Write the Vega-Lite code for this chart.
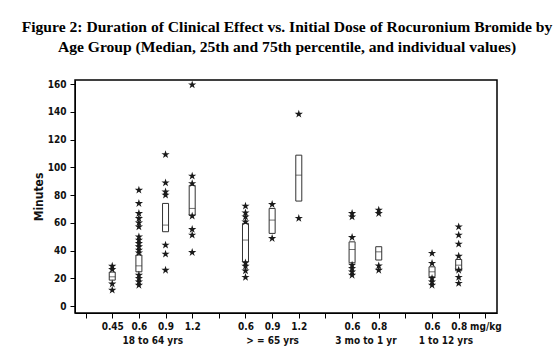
{
  "$schema": "https://vega.github.io/schema/vega-lite/v6.json",
  "width": 422,
  "height": 233,
  "autosize": {"type": "none"},
  "padding": {"left": 75, "top": 80, "right": 62, "bottom": 42},
  "background": "white",
  "title": {
    "text": ["Figure 2: Duration of Clinical Effect vs. Initial Dose of Rocuronium Bromide by", "Age Group (Median, 25th and 75th percentile, and individual values)"],
    "font": "Liberation Serif",
    "fontSize": 15.6,
    "fontWeight": "bold",
    "lineHeight": 20,
    "anchor": "middle",
    "offset": 24,
    "dx": 1,
    "color": "black"
  },
  "config": {
    "view": {"stroke": "black", "strokeWidth": 1.5},
    "axis": {
      "labelFont": "Liberation Sans Narrow, DejaVu Sans Condensed, sans-serif",
      "titleFont": "Liberation Sans Narrow, DejaVu Sans Condensed, sans-serif",
      "labelFontWeight": "bold",
      "titleFontWeight": "bold",
      "labelColor": "#111",
      "titleColor": "#111",
      "domainColor": "black",
      "tickColor": "black",
      "grid": false
    }
  },
  "datasets": {
    "boxes": [
      {"pos": 1, "q1": 18.7, "med": 21.1, "q3": 24.5},
      {"pos": 2, "q1": 24.7, "med": 29, "q3": 36.8},
      {"pos": 3, "q1": 53.6, "med": 58.4, "q3": 74},
      {"pos": 4, "q1": 65.6, "med": 70.4, "q3": 87},
      {"pos": 6, "q1": 31.9, "med": 47.6, "q3": 59.6},
      {"pos": 7, "q1": 52.4, "med": 62, "q3": 70.4},
      {"pos": 8, "q1": 75.7, "med": 94.4, "q3": 108.8},
      {"pos": 10, "q1": 31.2, "med": 40.8, "q3": 46.3},
      {"pos": 11, "q1": 33.2, "med": 39.1, "q3": 42.8},
      {"pos": 13, "q1": 21.1, "med": 24.7, "q3": 28.3},
      {"pos": 14, "q1": 25.4, "med": 29.5, "q3": 33.6}
    ],
    "points": [
      {"pos": 1, "v": 28.8}, {"pos": 1, "v": 26.4}, {"pos": 1, "v": 16}, {"pos": 1, "v": 11.5},
      {"pos": 2, "v": 83.6}, {"pos": 2, "v": 74}, {"pos": 2, "v": 66.8}, {"pos": 2, "v": 63.2},
      {"pos": 2, "v": 60}, {"pos": 2, "v": 57.2}, {"pos": 2, "v": 50}, {"pos": 2, "v": 47.6},
      {"pos": 2, "v": 45.2}, {"pos": 2, "v": 42.8}, {"pos": 2, "v": 40.4}, {"pos": 2, "v": 38.4},
      {"pos": 2, "v": 22.3}, {"pos": 2, "v": 20}, {"pos": 2, "v": 17.5}, {"pos": 2, "v": 15.1},
      {"pos": 3, "v": 109.3}, {"pos": 3, "v": 88.9}, {"pos": 3, "v": 82.4}, {"pos": 3, "v": 80},
      {"pos": 3, "v": 44}, {"pos": 3, "v": 37.5}, {"pos": 3, "v": 25.9},
      {"pos": 4, "v": 159.5}, {"pos": 4, "v": 93.7}, {"pos": 4, "v": 88.4}, {"pos": 4, "v": 64.9},
      {"pos": 4, "v": 55.3}, {"pos": 4, "v": 51.2}, {"pos": 4, "v": 38.7},
      {"pos": 6, "v": 72.1}, {"pos": 6, "v": 67.3}, {"pos": 6, "v": 64.4}, {"pos": 6, "v": 60.8},
      {"pos": 6, "v": 31.2}, {"pos": 6, "v": 28.8}, {"pos": 6, "v": 25.4}, {"pos": 6, "v": 20.7},
      {"pos": 7, "v": 73.3}, {"pos": 7, "v": 48.8},
      {"pos": 8, "v": 138.4}, {"pos": 8, "v": 63.3},
      {"pos": 10, "v": 66.8}, {"pos": 10, "v": 64.4}, {"pos": 10, "v": 49.5}, {"pos": 10, "v": 29.5},
      {"pos": 10, "v": 27.2}, {"pos": 10, "v": 24.7}, {"pos": 10, "v": 22.3},
      {"pos": 11, "v": 69.2}, {"pos": 11, "v": 66.8}, {"pos": 11, "v": 29}, {"pos": 11, "v": 25.9},
      {"pos": 13, "v": 38}, {"pos": 13, "v": 30.8}, {"pos": 13, "v": 20}, {"pos": 13, "v": 17.5}, {"pos": 13, "v": 15.1},
      {"pos": 14, "v": 57.2}, {"pos": 14, "v": 51.2}, {"pos": 14, "v": 44.7}, {"pos": 14, "v": 36},
      {"pos": 14, "v": 25.9}, {"pos": 14, "v": 20.7}, {"pos": 14, "v": 16.4}
    ]
  },
  "encoding": {
    "x": {
      "field": "pos",
      "type": "quantitative",
      "scale": {"domain": [-0.21, 15.25], "nice": false, "zero": false},
      "axis": {
        "title": null,
        "values": [0, 1, 2, 2.5, 3, 4, 5, 6, 7, 8, 9, 10, 10.5, 11, 12, 13, 13.5, 14, 15],
        "labelExpr": "datum.value==1?'0.45':datum.value==2?'0.6':datum.value==3?'0.9':datum.value==4?'1.2':datum.value==2.5?['','18 to 64 yrs']:datum.value==6?'0.6':datum.value==7?['0.9','> = 65 yrs']:datum.value==8?'1.2':datum.value==10?'0.6':datum.value==10.5?['','3 mo to 1 yr']:datum.value==11?'0.8':datum.value==13?'0.6':datum.value==13.5?['','1 to 12 yrs']:datum.value==14?'0.8':datum.value==15?'mg/kg':''",
        "labelOverlap": false,
        "labelFlush": false,
        "labelBound": false,
        "labelFontSize": 10,
        "labelLineHeight": 14,
        "labelPadding": 3,
        "tickSize": 5,
        "tickOpacity": {"condition": {"test": "datum.value==2.5||datum.value==10.5||datum.value==13.5", "value": 0}, "value": 1}
      }
    },
    "y": {
      "type": "quantitative",
      "scale": {"domain": [-5, 163], "nice": false, "zero": false},
      "axis": {
        "title": "Minutes",
        "titleFontSize": 12,
        "values": [0, 20, 40, 60, 80, 100, 120, 140, 160],
        "labelFontSize": 10,
        "tickSize": 5,
        "labelPadding": 4,
        "titlePadding": 2
      }
    }
  },
  "layer": [
    {
      "data": {"name": "boxes"},
      "mark": {"type": "bar", "width": 6, "fill": "white", "stroke": "#333", "strokeWidth": 1},
      "encoding": {
        "y": {"field": "q1", "type": "quantitative", "title": "Minutes"},
        "y2": {"field": "q3"}
      }
    },
    {
      "data": {"name": "boxes"},
      "mark": {"type": "tick", "orient": "horizontal", "size": 6, "thickness": 1, "color": "#333"},
      "encoding": {
        "y": {"field": "med", "type": "quantitative", "title": "Minutes"}
      }
    },
    {
      "data": {"name": "points"},
      "mark": {
        "type": "point",
        "shape": "M0,-1L0.2245,-0.309L0.951,-0.309L0.3633,0.118L0.588,0.809L0,0.382L-0.588,0.809L-0.3633,0.118L-0.951,-0.309L-0.2245,-0.309Z",
        "filled": true,
        "size": 75,
        "color": "#1a1a1a",
        "opacity": 1
      },
      "encoding": {
        "y": {"field": "v", "type": "quantitative", "title": "Minutes"}
      }
    }
  ]
}
